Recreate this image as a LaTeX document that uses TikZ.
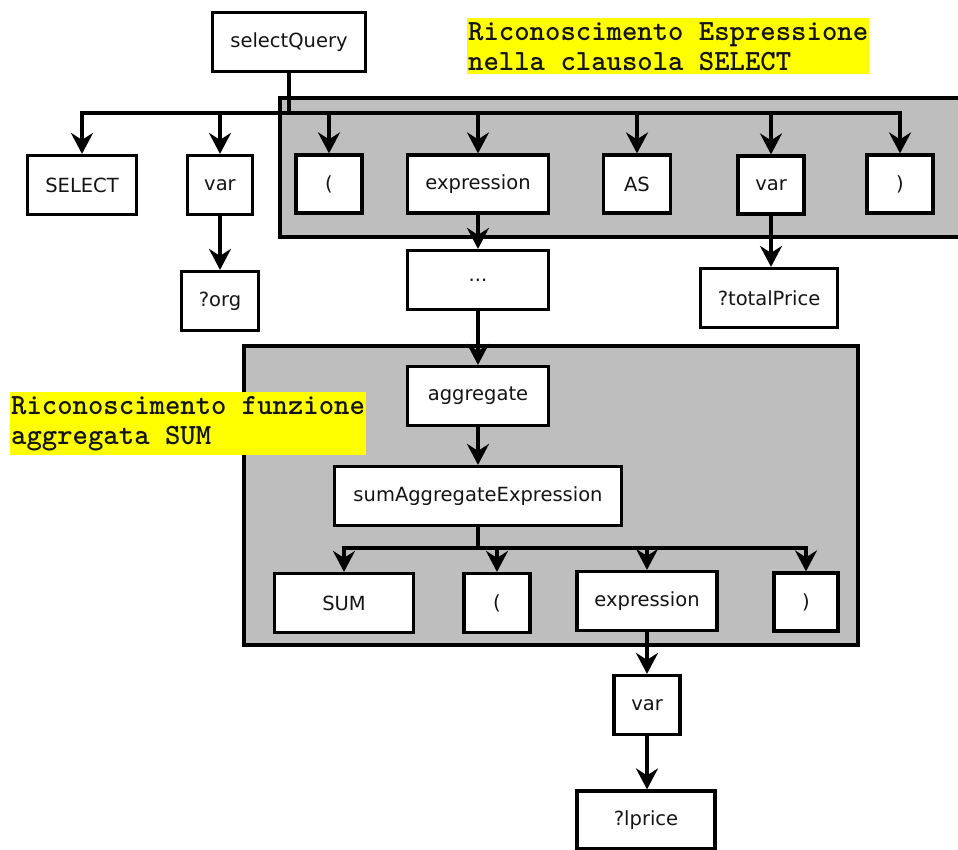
\documentclass[tikz,border=0pt]{standalone}
\usepackage{fontspec}
\setmainfont{DejaVu Sans}
\usetikzlibrary{arrows.meta}
\definecolor{grp}{RGB}{190,190,190}
\definecolor{txt}{RGB}{20,20,20}
\definecolor{hl}{RGB}{255,255,0}
\begin{document}
\begin{tikzpicture}[x=1pt,y=-1pt,
  box/.style={draw=black, fill=white, line width=3.2pt, inner sep=0pt, font=\fontsize{19.5}{23}\selectfont, text=txt},
  group/.style={draw=black, fill=grp, line width=3.2pt, inner sep=0pt},
  link/.style={line width=3.2pt},
  stem/.style={line width=4pt},
  conn/.style={line width=3.2pt, -{Stealth[length=21pt,width=22pt,inset=7pt]}},
  lab/.style={fill=hl, inner xsep=1pt, inner ysep=4pt, align=left, anchor=north west, font=\ttfamily\bfseries\fontsize{29.3}{30}\selectfont, text=txt}
]
\useasboundingbox (0,0) rectangle (958,849);

% groups
\node[group, minimum width=680pt, minimum height=139pt] (g1) at (620,167.5) {};
\node[group, minimum width=614pt, minimum height=299pt] (g2) at (551,495.5) {};

% nodes
\node[box, minimum width=153pt, minimum height=59pt] (sq) at (289,42) {selectQuery};
\node[box, minimum width=109pt, minimum height=59pt] (sel) at (82,185) {SELECT};
\node[box, minimum width=65pt, minimum height=59pt] (var1) at (220,185) {var};
\node[box, minimum width=66pt, minimum height=58pt] (lp1) at (329,184) {(};
\node[box, minimum width=141pt, minimum height=58pt] (expr1) at (478,184) {expression};
\node[box, minimum width=67pt, minimum height=58pt] (as) at (637,184) {AS};
\node[box, minimum width=66pt, minimum height=58pt] (var2) at (771,185) {var};
\node[box, minimum width=66pt, minimum height=58pt] (rp1) at (900,184) {)};
\node[box, minimum width=141pt, minimum height=59pt] (dots) at (478,280) {...};
\node[box, minimum width=77pt, minimum height=59pt] (org) at (220,301) {?org};
\node[box, minimum width=137pt, minimum height=59pt] (tp) at (769,298) {?totalPrice};
\node[box, minimum width=141pt, minimum height=59pt] (agg) at (478,396) {aggregate};
\node[box, minimum width=287pt, minimum height=59pt] (sae) at (478,496) {sumAggregateExpression};
\node[box, minimum width=139pt, minimum height=59pt] (sum) at (344,603) {SUM};
\node[box, minimum width=66pt, minimum height=59pt] (lp2) at (497,603) {(};
\node[box, minimum width=140pt, minimum height=59pt] (expr2) at (647,601) {expression};
\node[box, minimum width=64pt, minimum height=58pt] (rp2) at (806,602) {)};
\node[box, minimum width=66pt, minimum height=59pt] (var3) at (647,705) {var};
\node[box, minimum width=138pt, minimum height=58pt] (lpr) at (646,820) {?lprice};

% connectors
\coordinate (b1) at (289,113);
\coordinate (b2) at (478,548);
\foreach \t in {sel,var1,lp1,expr1,as,var2,rp1}
  \draw[conn] (b1) -| (\t.north);
\draw[stem] (sq.south) -- (b1);
\draw[conn] (expr1.south) -- (dots.north);
\draw[conn] (var1.south) -- (org.north);
\draw[conn] (var2.south) -- (var2.south |- tp.north);
\draw[conn] (dots.south) -- (agg.north);
\draw[conn] (agg.south) -- (sae.north);
\foreach \t in {sum,lp2,expr2,rp2}
  \draw[conn] (b2) -| (\t.north);
\draw[stem] (sae.south) -- (b2);
\draw[conn] (expr2.south) -- (var3.north);
\draw[conn] (var3.south) -- (var3.south |- lpr.north);

% labels
\node[lab] (l1) at (467,18) {Riconoscimento Espressione\\nella clausola SELECT};
\node[lab] (l2) at (10,392) {Riconoscimento funzione\\aggregata SUM};
\end{tikzpicture}
\end{document}
